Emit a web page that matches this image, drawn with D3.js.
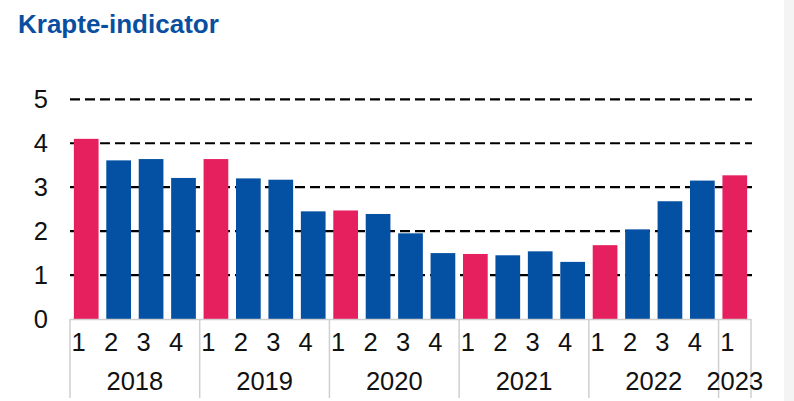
<!DOCTYPE html>
<html><head><meta charset="utf-8">
<script src="https://cdn.jsdelivr.net/npm/d3@7/dist/d3.min.js"></script>
<style>body{margin:0;background:#fff;}svg{display:block;}</style>
</head><body>
<svg id="c" width="794" height="401"></svg>
<script>
const years = ["2018","2019","2020","2021","2022","2023"];
const quartersPerYear = [4,4,4,4,4,1];
const quarterLabels = ["1","2","3","4","1","2","3","4","1","2","3","4","1","2","3","4","1","2","3","4","1"];
const values = [4.10,3.61,3.64,3.21, 3.64,3.20,3.17,2.45, 2.47,2.39,1.95,1.50, 1.48,1.45,1.54,1.30, 1.68,2.04,2.68,3.15, 3.27];
const yTicks = [0,1,2,3,4,5];
const title = "Krapte-indicator";

const pink = "#e61f5f", blue = "#0451a3";
const FONT = "Liberation Sans, Arial, sans-serif";
const svg = d3.select("#c");
const ids = values.map((d,i)=>i);
const x = d3.scaleBand().domain(ids).range([70,751]).paddingInner(0.238).paddingOuter(0.119);
const y = d3.scaleLinear().domain([0,5]).range([319,99.3]);

svg.append("rect").attr("x",784).attr("y",0).attr("width",10).attr("height",401).attr("fill","#f4f4f4");

svg.append("text").attr("x",18).attr("y",33).text(title)
  .attr("font-family",FONT).attr("font-weight","bold")
  .attr("font-size",26).attr("fill","#0a4f9f");

// gridlines
svg.append("g").selectAll("line").data(yTicks.filter(t=>t>0)).join("line")
  .attr("x1",70).attr("x2",752).attr("y1",d=>y(d)).attr("y2",d=>y(d))
  .attr("stroke","#000").attr("stroke-width",2.2).attr("stroke-dasharray","10,5");

// y labels
const yAxis = d3.axisLeft(y).tickValues(yTicks).tickSize(0).tickPadding(0).tickFormat(d3.format("d"));
const ya = svg.append("g").attr("transform","translate(48,0)").call(yAxis);
ya.select(".domain").remove();
ya.selectAll("text").attr("font-family",FONT).attr("font-size",25.5).attr("fill","#111");

// bars
const firstQ = [];
let k=0; quartersPerYear.forEach(n=>{firstQ.push(k); k+=n;});
svg.append("g").selectAll("rect").data(values).join("rect")
  .attr("x",(d,i)=>x(i)).attr("width",x.bandwidth())
  .attr("y",d=>y(d)).attr("height",d=>y(0)-y(d))
  .attr("fill",(d,i)=>firstQ.includes(i)?pink:blue);

// axis line
svg.append("line").attr("x1",70).attr("x2",751).attr("y1",319.5).attr("y2",319.5)
  .attr("stroke","#cfcfcf").attr("stroke-width",1.5);

// separators
const bounds = firstQ.map(i=>x(i)-x.step()*x.paddingOuter());
bounds.push(751);
svg.append("g").selectAll("line").data(bounds).join("line")
  .attr("x1",d=>d).attr("x2",d=>d).attr("y1",319).attr("y2",398)
  .attr("stroke","#cfcfcf").attr("stroke-width",1.5);

// quarter labels
svg.append("g").selectAll("text").data(quarterLabels).join("text")
  .attr("x",(d,i)=>x(i)+x.bandwidth()/2-7.5).attr("y",351)
  .attr("text-anchor","middle").text(d=>d)
  .attr("font-family",FONT).attr("font-size",25.5).attr("fill","#111");

// year labels
svg.append("g").selectAll("text").data(years).join("text")
  .attr("x",(d,i)=>(bounds[i]+bounds[i+1])/2).attr("y",390)
  .attr("text-anchor","middle").text(d=>d)
  .attr("font-family",FONT).attr("font-size",25.5).attr("fill","#111");
</script>
</body></html>
